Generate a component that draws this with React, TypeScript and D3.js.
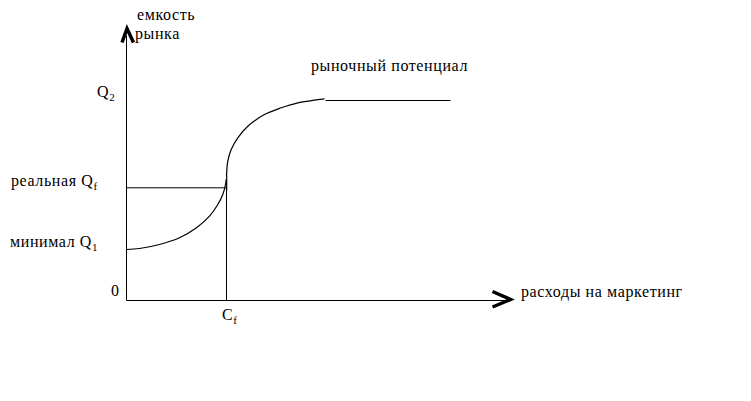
import React from "react";
import * as d3 from "d3";

// Data (spend units along x, market capacity along y)
const lowerSpend = [0, 13, 33, 53, 70, 83, 91.3, 96.3, 99, 99.6];
const lowerCapacity = [51, 52, 56, 62.7, 72.7, 84.3, 96, 106, 116, 121];
const upperSpend = [100, 101.3, 104.7, 111.3, 121.3, 138, 154.7, 171.3, 188, 198];
const upperCapacity = [124.3, 139.3, 151, 162.7, 174.3, 186, 192.7, 197.7, 200.3, 201.7];
const plateauSpend = [199, 324];
const plateauCapacity = [200, 200];
const realSpend = 100; // C_f
const realCapacity = 112.7; // Q_f

const W = 751;
const H = 401;

export default function App() {
  const x = d3.scaleLinear().domain([0, 380]).range([126.5, 506.5]);
  const y = d3.scaleLinear().domain([0, 270]).range([300.5, 30.5]);

  const line = d3
    .line<[number, number]>()
    .x((d) => x(d[0]))
    .y((d) => y(d[1]))
    .curve(d3.curveCatmullRom.alpha(0.5));
  const straight = d3
    .line<[number, number]>()
    .x((d) => x(d[0]))
    .y((d) => y(d[1]));

  const lower = lowerSpend.map((s, i) => [s, lowerCapacity[i]] as [number, number]);
  const upper = upperSpend.map((s, i) => [s, upperCapacity[i]] as [number, number]);
  const plateau = plateauSpend.map((s, i) => [s, plateauCapacity[i]] as [number, number]);

  const font = {
    fontFamily: "'Liberation Serif', 'Times New Roman', serif",
    fontSize: 16,
    letterSpacing: 0.6,
    fill: "#000",
  };
  const sub = { fontSize: 11 };

  return (
    <svg
      width={W}
      height={H}
      style={{ position: "absolute", left: 0, top: 0, background: "#fff" }}
    >
      {/* axes */}
      <line x1={x(0)} y1={y(0)} x2={x(0)} y2={y(265)} stroke="#000" strokeWidth={1} />
      <line x1={x(0)} y1={y(0)} x2={x(383)} y2={y(0)} stroke="#000" strokeWidth={1} />
      {/* arrowheads */}
      <path
        d={`M${x(-4.5)},${y(258)} L${x(0.5)},${y(272)} L${x(7)},${y(258)}`}
        fill="none"
        stroke="#000"
        strokeWidth={3.5}
        strokeLinejoin="miter"
      />
      <path
        d={`M${x(366)},${y(9)} L${x(384)},${y(1)} L${x(366)},${y(-6.5)}`}
        fill="none"
        stroke="#000"
        strokeWidth={3.5}
        strokeLinejoin="miter"
      />

      {/* reference lines */}
      <path d={straight([[0, realCapacity], [realSpend, realCapacity]]) || ""} stroke="#000" fill="none" strokeWidth={1} />
      <path d={straight([[realSpend, 0], [realSpend, realCapacity]]) || ""} stroke="#000" fill="none" strokeWidth={1} />

      {/* curve */}
      <path d={line(lower) || ""} stroke="#000" fill="none" strokeWidth={1.2} />
      <path d={straight([[100.2, 110], [100.2, 125]]) || ""} stroke="#000" fill="none" strokeWidth={1.2} />
      <path d={line(upper) || ""} stroke="#000" fill="none" strokeWidth={1.2} />
      <path d={straight(plateau) || ""} stroke="#000" fill="none" strokeWidth={1.2} />

      {/* labels */}
      <text x={137} y={20} {...font}>емкость</text>
      <text x={135} y={39} {...font}>рынка</text>
      <text x={97} y={97} {...font}>
        Q<tspan {...sub} dy={4}>2</tspan>
      </text>
      <text x={11} y={186} {...font}>
        реальная Q<tspan {...sub} dy={4}>f</tspan>
      </text>
      <text x={10} y={247} {...font}>
        минимал Q<tspan {...sub} dy={4}>1</tspan>
      </text>
      <text x={111} y={296} {...font}>0</text>
      <text x={222} y={320} {...font}>
        C<tspan {...sub} dy={4}>f</tspan>
      </text>
      <text x={521} y={297} {...font}>расходы на маркетинг</text>
      <text x={311} y={71} {...font}>рыночный потенциал</text>
    </svg>
  );
}
